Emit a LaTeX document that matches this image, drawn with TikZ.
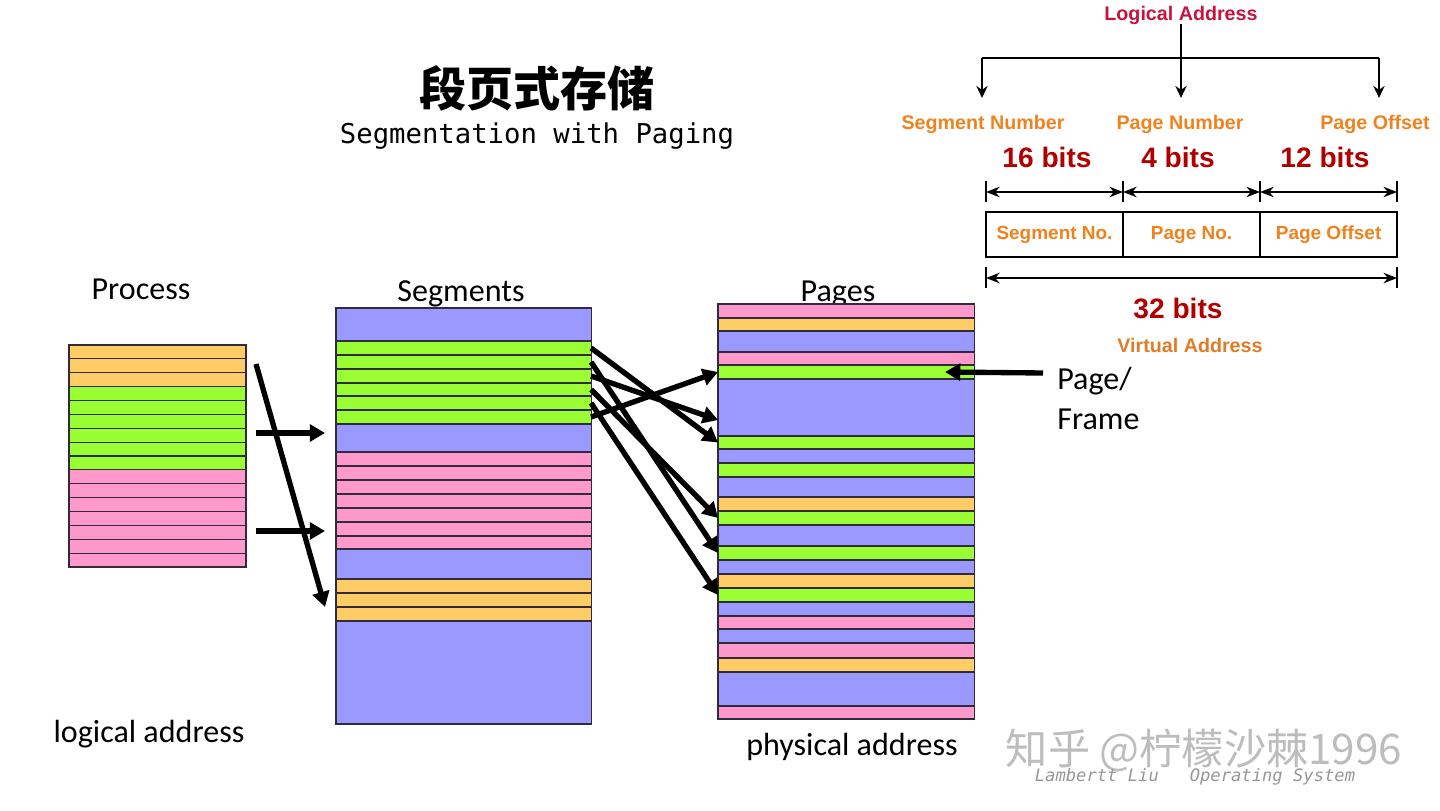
\documentclass[tikz,border=0pt]{standalone}
\usepackage{fontspec}
\usetikzlibrary{arrows.meta, positioning}
\setmainfont{Carlito}
\newfontfamily\arialfont{Liberation Sans}
\newfontfamily\cjkfont{Noto Sans CJK SC}
\newfontfamily\monofont{DejaVu Sans Mono}
\definecolor{memblue}{HTML}{9999FF}
\definecolor{memgreen}{HTML}{99FF33}
\definecolor{mempink}{HTML}{FF99CC}
\definecolor{memorange}{HTML}{FFCC66}
\definecolor{memline}{HTML}{2F2A3C}
\definecolor{fieldorange}{HTML}{F0821E}
\definecolor{vaorange}{HTML}{E07B28}
\definecolor{addrred}{HTML}{C8143C}
\definecolor{bitsred}{HTML}{B00000}
\definecolor{wmgray}{HTML}{BDBDBD}
\begin{document}
\begin{tikzpicture}[x=0.025cm, y=-0.025cm,
  stripe/.style={draw=memline, line width=0.8pt, inner sep=0pt, outer sep=0pt, anchor=north west},
  colhead/.style={font=\fontsize{22.8}{27}\selectfont, anchor=base, inner sep=0pt},
  bigarrow/.style={line width=3.8pt, -{Triangle[length=0.38cm, width=0.42cm]}},
  thinarrow/.style={line width=1.4pt, -{Stealth[length=0.3cm, width=0.28cm]}},
  dimline/.style={line width=1.4pt, {Stealth[length=0.34cm, width=0.26cm]}-{Stealth[length=0.34cm, width=0.26cm]}},
  tick/.style={line width=1.4pt},
  field/.style={font=\arialfont\bfseries\fontsize{14}{17}\selectfont, text=fieldorange, anchor=base, inner sep=0pt},
  bits/.style={font=\arialfont\bfseries\fontsize{20}{24}\selectfont, text=bitsred, anchor=base, inner sep=0pt},
  bitbox/.style={draw, line width=1.7pt, inner sep=0pt, outer sep=0pt, minimum width=3.425cm, minimum height=1.125cm,
    font=\arialfont\bfseries\fontsize{13.5}{16}\selectfont, text=fieldorange}]

\useasboundingbox (0,0) rectangle (1440,810);
\fill[white] (0,0) rectangle (1440,810);

% Title
\node[font=\cjkfont\bfseries\fontsize{33.5}{40}\selectfont, inner sep=0pt] (title) at (537,88) {段页式存储};
\node[font=\monofont\fontsize{19.4}{23}\selectfont, anchor=base, inner sep=0pt] (subtitle) at (537,143) {Segmentation with Paging};

% Process
\node[colhead] (prhead) at (141,299) {Process};
\foreach \c [count=\i] in {memorange,memorange,memorange,memgreen,memgreen,memgreen,memgreen,memgreen,memgreen,
    mempink,mempink,mempink,mempink,mempink,mempink,mempink}
  \node[stripe, fill=\c, minimum width=4.425cm, minimum height=0.347cm] (pr\i) at (69,{345+(\i-1)*13.875}) {};
\node[colhead] (laddr) at (149,742) {logical address};

% Segments
\node[colhead] (sghead) at (461,301) {Segments};
\foreach \c/\a/\b [count=\i] in {memblue/308/341, memgreen/341/355, memgreen/355/369, memgreen/369/383,
    memgreen/383/396, memgreen/396/410, memgreen/410/424, memblue/424/452, mempink/452/466, mempink/466/480,
    mempink/480/494, mempink/494/508, mempink/508/522, mempink/522/536, mempink/536/549, memblue/549/579,
    memorange/579/593, memorange/593/607, memorange/607/621, memblue/621/724}
  \node[stripe, fill=\c, minimum width=6.375cm, minimum height={(\b-\a)*0.025cm}] (sg\i) at (336,\a) {};

% Pages
\node[colhead] (pghead) at (838,301) {Pages};
\foreach \c/\a/\b [count=\i] in {mempink/304/318, memorange/318/331, memblue/331/352, mempink/352/365,
    memgreen/365/379, memblue/379/436, memgreen/436/449, memblue/449/463, memgreen/463/477, memblue/477/497,
    memorange/497/511, memgreen/511/525, memblue/525/546, memgreen/546/560, memblue/560/574, memorange/574/588,
    memgreen/588/602, memblue/602/616, mempink/616/629, memblue/629/643, mempink/643/658, memorange/658/672,
    memblue/672/706, mempink/706/719}
  \node[stripe, fill=\c, minimum width=6.4cm, minimum height={(\b-\a)*0.025cm}] (pg\i) at (718,\a) {};
\node[colhead] (paddr) at (852,755) {physical address};

% Process -> segments
\coordinate (ps1) at (256,433); \coordinate (pe1) at (325,433);
\coordinate (ps2) at (256,531); \coordinate (pe2) at (325,531);
\coordinate (ps3) at (256,364); \coordinate (pe3) at (325,607);
\draw[bigarrow] (ps1) -- (pe1);
\draw[bigarrow] (ps2) -- (pe2);
\draw[bigarrow] (ps3) -- (pe3);

% Segments -> pages
\draw[bigarrow] (sg2.east) -- (pg7.west);
\draw[bigarrow] (sg3.east) -- (pg14.west);
\draw[bigarrow] (sg4.east) -- ([yshift=-0.3125cm]pg6.west);
\draw[bigarrow] (sg5.east) -- (pg12.west);
\draw[bigarrow] (sg6.east) -- (pg17.west);
\draw[bigarrow] (sg7.east) -- (pg5.west);

% Page/Frame
\node[colhead, anchor=base west] (pglbl) at (1057,389) {Page/};
\node[colhead, anchor=base west] (frlbl) at (1057,429) {Frame};
\coordinate (frtail) at (1043,373);
\draw[bigarrow] (frtail) -- ([xshift=-0.725cm]pg5.east);

% Logical address fields
\node[font=\arialfont\bfseries\fontsize{14}{17}\selectfont, text=addrred, anchor=base, inner sep=0pt] (la) at (1181,20) {Logical Address};
\node[field] (sn) at (983,129) {Segment Number};
\node[field] (pn) at (1180,129) {Page Number};
\node[field] (po) at (1375,129) {Page Offset};
\coordinate (forkl) at (982,58); \coordinate (forkr) at (1379,58);
\coordinate (tipl) at (982,98); \coordinate (tipm) at (1181,98); \coordinate (tipr) at (1379,98);
\draw[line width=1.4pt] (forkl) -- (forkr);
\draw[thinarrow] (la.south) -- (tipm);
\draw[thinarrow] (forkl) -- (tipl);
\draw[thinarrow] (forkr) -- (tipr);

\node[bits] (b16) at (1047,167) {16 bits};
\node[bits] (b4) at (1178,167) {4 bits};
\node[bits] (b12) at (1325,167) {12 bits};

% Virtual address box
\node[bitbox, anchor=north west] (sno) at (986,212) {Segment No.};
\node[bitbox, right=0pt of sno] (pno) {Page No.};
\node[bitbox, right=0pt of pno] (pof) {Page Offset};
\foreach \n in {sno.north west, pno.north west, pof.north west, pof.north east}
  \draw[tick] ([yshift=0.25cm]\n) -- ([yshift=0.775cm]\n);
\foreach \n in {sno, pno, pof}
  \draw[dimline] ([yshift=0.5cm]\n.north west) -- ([yshift=0.5cm]\n.north east);
\foreach \n in {sno.south west, pof.south east}
  \draw[tick] ([yshift=-0.25cm]\n) -- ([yshift=-0.775cm]\n);
\draw[dimline] ([yshift=-0.525cm]sno.south west) -- ([yshift=-0.525cm]pof.south east);
\node[bits] (b32) at (1178,318) {32 bits};
\node[field, text=vaorange] (va) at (1190,352) {Virtual Address};

% Footer
\node[font=\cjkfont\fontsize{30}{36}\selectfont, text=wmgray, inner sep=0pt] (wm) at (1204,750) {知乎 @柠檬沙棘1996};
\node[font=\monofont\itshape\fontsize{12.2}{14}\selectfont, text=wmgray!80!black, anchor=base, inner sep=0pt] (footer) at (1195,781) {Lambertt Liu\ \ \ Operating System};

\end{tikzpicture}
\end{document}
